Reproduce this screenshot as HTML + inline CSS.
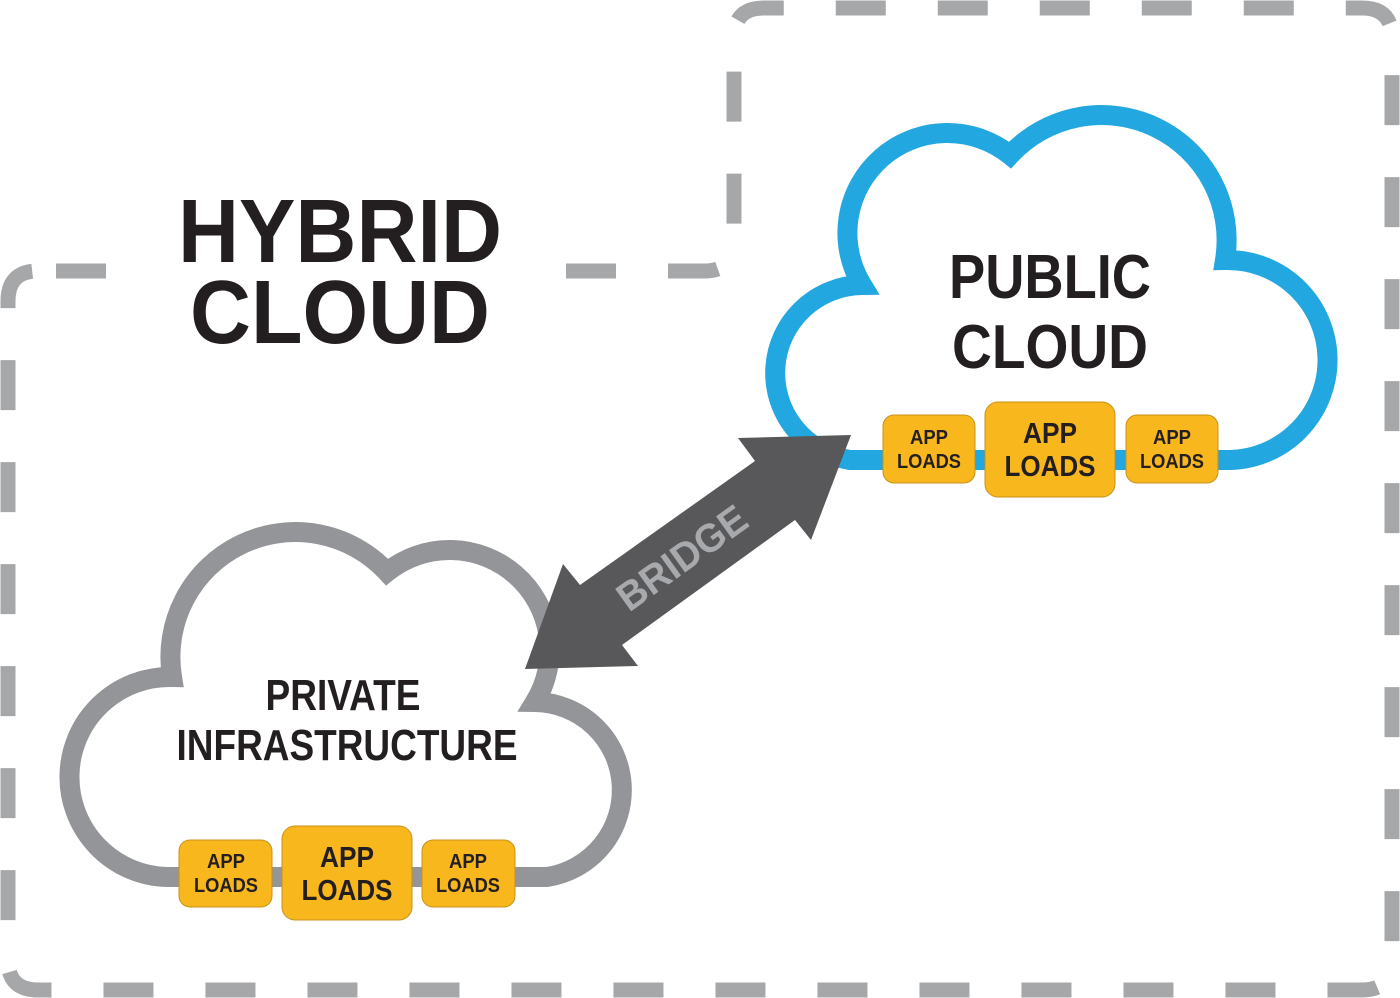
<!DOCTYPE html>
<html><head><meta charset="utf-8"><style>
html,body{margin:0;padding:0;background:#fff;}
svg{display:block;}
text{font-family:"Liberation Sans",sans-serif;font-weight:bold;}
</style></head><body>
<svg width="1400" height="998" viewBox="0 0 1400 998" xmlns="http://www.w3.org/2000/svg">
<rect width="1400" height="998" fill="#fff"/>
<!-- dashed border -->
<path d="M38,271 L704,271 Q734,271 734,241 L734,38 Q734,8 764,8 L1362,8 Q1392,8 1392,38 L1392,960 Q1392,990 1362,990 L38,990 Q8,990 8,960 L8,301 Q8,271 38,271 Z" fill="none" stroke="#a6a7a9" stroke-width="15" stroke-dasharray="50 52" stroke-dashoffset="-18"/>
<rect x="110" y="255" width="452" height="32" fill="#fff"/>

<!-- title -->
<text x="340" y="262" font-size="90" fill="#231f20" text-anchor="middle" textLength="324" lengthAdjust="spacingAndGlyphs">HYBRID</text>
<text x="340" y="343" font-size="90" fill="#231f20" text-anchor="middle" textLength="300" lengthAdjust="spacingAndGlyphs">CLOUD</text>

<!-- public cloud -->
<path d="M850,460 A88 88 0 0 1 862,285 A100 100 0 0 1 1010,155 A125 125 0 0 1 1225,260 A100 100 0 0 1 1230,460 Z" fill="#fff" stroke="#22a7e0" stroke-width="20"/>
<!-- private cloud (mirrored) -->
<path d="M850,460 A88 88 0 0 1 862,285 A100 100 0 0 1 1010,155 A125 125 0 0 1 1225,260 A100 100 0 0 1 1230,460 Z" transform="matrix(-1 0 0 1 1397 417)" fill="#fff" stroke="#939598" stroke-width="20"/>

<text x="1050" y="298" font-size="62" fill="#231f20" text-anchor="middle" textLength="202" lengthAdjust="spacingAndGlyphs">PUBLIC</text>
<text x="1050" y="368" font-size="62" fill="#231f20" text-anchor="middle" textLength="196" lengthAdjust="spacingAndGlyphs">CLOUD</text>

<text x="343" y="710" font-size="44" fill="#231f20" text-anchor="middle" textLength="155" lengthAdjust="spacingAndGlyphs">PRIVATE</text>
<text x="347" y="760" font-size="44" fill="#231f20" text-anchor="middle" textLength="341" lengthAdjust="spacingAndGlyphs">INFRASTRUCTURE</text>

<!-- boxes -->
<g stroke="#c8921a" stroke-width="1" fill="#f9b71e">
<rect x="883" y="415" width="92" height="68" rx="11"/>
<rect x="985" y="402" width="130" height="95" rx="13"/>
<rect x="1126" y="415" width="92" height="68" rx="11"/>
<rect x="179" y="840" width="93" height="67" rx="11"/>
<rect x="282" y="826" width="130" height="94" rx="13"/>
<rect x="422" y="840" width="93" height="67" rx="11"/>
</g>
<g fill="#231f20" text-anchor="middle">
<text x="929" y="444" font-size="20" textLength="38" lengthAdjust="spacingAndGlyphs">APP</text>
<text x="929" y="468" font-size="20" textLength="64" lengthAdjust="spacingAndGlyphs">LOADS</text>
<text x="1050" y="443" font-size="29" textLength="54" lengthAdjust="spacingAndGlyphs">APP</text>
<text x="1050" y="476" font-size="29" textLength="91" lengthAdjust="spacingAndGlyphs">LOADS</text>
<text x="1172" y="444" font-size="20" textLength="38" lengthAdjust="spacingAndGlyphs">APP</text>
<text x="1172" y="468" font-size="20" textLength="64" lengthAdjust="spacingAndGlyphs">LOADS</text>

<text x="226" y="868" font-size="20" textLength="38" lengthAdjust="spacingAndGlyphs">APP</text>
<text x="226" y="892" font-size="20" textLength="64" lengthAdjust="spacingAndGlyphs">LOADS</text>
<text x="347" y="867" font-size="29" textLength="54" lengthAdjust="spacingAndGlyphs">APP</text>
<text x="347" y="900" font-size="29" textLength="91" lengthAdjust="spacingAndGlyphs">LOADS</text>
<text x="468" y="868" font-size="20" textLength="38" lengthAdjust="spacingAndGlyphs">APP</text>
<text x="468" y="892" font-size="20" textLength="64" lengthAdjust="spacingAndGlyphs">LOADS</text>
</g>

<!-- bridge arrow -->
<polygon points="851,435 811,540 795,520 622,645 638,666 525,669 563,564 580,585 755,461 738,438" fill="#58585a"/>
<text x="0" y="0" font-size="40" fill="#a7a9ac" text-anchor="middle" textLength="150" lengthAdjust="spacingAndGlyphs" transform="translate(690,569) rotate(-35.7)">BRIDGE</text>
</svg>
</body></html>
